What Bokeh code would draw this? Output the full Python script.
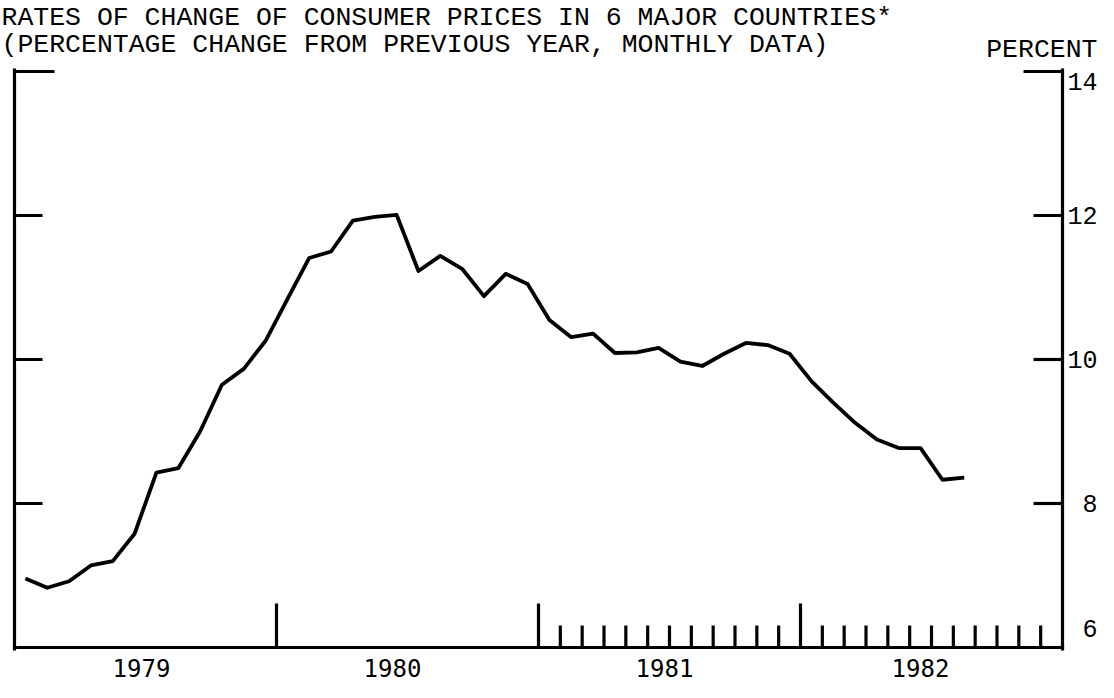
import pandas as pd
from bokeh.plotting import figure
from bokeh.models import Range1d
from bokeh.core.properties import value
from bokeh.embed import file_html
from bokeh.resources import INLINE

# ---------------- data ----------------
title_lines = [
    "RATES OF CHANGE OF CONSUMER PRICES IN 6 MAJOR COUNTRIES*",
    "(PERCENTAGE CHANGE FROM PREVIOUS YEAR, MONTHLY DATA)",
]
unit_label = "PERCENT"
years = [1979, 1980, 1981, 1982]
year_labels = ["1979", "1980", "1981", "1982"]
y_ticks = [6, 8, 10, 12, 14]
y_tick_labels = ["6", "8", "10", "12", "14"]
months = pd.period_range("1979-01", "1982-08", freq="M")
cpi = [6.96, 6.83, 6.92, 7.14, 7.20, 7.58, 8.43, 8.49, 9.00, 9.65,
       9.87, 10.26, 10.84, 11.41, 11.50, 11.93, 11.98, 12.01, 11.23, 11.44,
       11.26, 10.88, 11.19, 11.05, 10.55, 10.31, 10.36, 10.09, 10.10, 10.16,
       9.97, 9.91, 10.08, 10.23, 10.20, 10.08, 9.70, 9.40, 9.12, 8.89,
       8.77, 8.77, 8.33, 8.36]

# ---------------- layout (pixels) ----------------
W, H = 1098, 682
BL, BR, BT, BB = 14, 36, 71, 35          # space round the chart box
FW, FH = W - BL - BR, H - BT - BB

start_year = years[0]
x_end = 12 * len(years)
y_lo, y_hi = y_ticks[0], y_ticks[-1]
pxm = FW / x_end                         # pixels per month
pxu = FH / (y_hi - y_lo)                 # pixels per percentage point

def dx(px):
    return px / pxm

def dy(px):
    return px / pxu

def cy(px_from_top):
    return y_hi + dy(BT - px_from_top)

def cx(px_from_left):
    return dx(px_from_left - BL)

x_mid_month = [(p.year - start_year) * 12 + (p.month - 1) + 0.5 for p in months]
year_bounds = [(y - start_year) * 12 for y in years[1:]]
year_mids = [(y - start_year) * 12 + 6 for y in years]
minor_months = [(y - start_year) * 12 + m for y in years[2:] for m in range(1, 12)]

p = figure(width=W, height=H, output_backend="svg", toolbar_location=None,
           x_range=Range1d(-dx(BL), x_end + dx(BR)),
           y_range=Range1d(y_lo - dy(BB), y_hi + dy(BT)),
           x_axis_type=None, y_axis_type=None,
           min_border=0, min_border_left=0, min_border_right=0,
           min_border_top=0, min_border_bottom=0)
p.outline_line_color = None
p.background_fill_color = "white"
p.border_fill_color = "white"
p.grid.visible = False

AX_W = 3.2
K = "black"

# chart box: left, right and bottom lines
p.segment(x0=[0, x_end, 0], y0=[y_lo - dy(1.5), y_lo - dy(1.5), y_lo],
          x1=[0, x_end, x_end], y1=[y_hi + dy(1.5), y_hi + dy(1.5), y_lo],
          line_width=AX_W, line_color=K, line_cap="square")

# y ticks pointing inward on both sides
inner = y_ticks[1:-1]
p.segment(x0=[0] * len(inner), y0=inner, x1=[dx(28)] * len(inner), y1=inner,
          line_width=AX_W, line_color=K)
p.segment(x0=[x_end - dx(29)] * len(inner), y0=inner, x1=[x_end] * len(inner), y1=inner,
          line_width=AX_W, line_color=K)
# top corner brackets
p.segment(x0=[0, x_end - dx(39)], y0=[y_hi, y_hi], x1=[dx(40), x_end], y1=[y_hi, y_hi],
          line_width=AX_W, line_color=K)

# x ticks: tall at year boundaries, short monthly ones in 1981-82
p.segment(x0=year_bounds, y0=[y_lo] * len(year_bounds), x1=year_bounds,
          y1=[y_lo + dy(44)] * len(year_bounds), line_width=AX_W, line_color=K)
p.segment(x0=minor_months, y0=[y_lo] * len(minor_months), x1=minor_months,
          y1=[y_lo + dy(22)] * len(minor_months), line_width=AX_W, line_color=K)

# data line
p.line(x_mid_month, cpi, line_width=3.8, line_color=K, line_join="round")

MONO = value("Liberation Mono")

# titles
p.text(x=[cx(1)] * 2, y=[cy(17.5), cy(44.5)], text=title_lines,
       text_font=MONO, text_font_size=value("26.5px"), text_color=K,
       text_baseline="middle", text_align="left")
p.text(x=[cx(1097)], y=[cy(49)], text=[unit_label],
       text_font=MONO, text_font_size=value("26.5px"), text_color=K,
       text_baseline="middle", text_align="right")

# right-hand value labels (top and bottom ones sit inside the box corners)
shift_px = {6: 19, 14: -10}
p.text(x=[cx(1097)] * len(y_ticks),
       y=[v + dy(shift_px.get(v, 0)) for v in y_ticks], text=y_tick_labels,
       text_font=MONO, text_font_size=value("25px"), text_color=K,
       text_baseline="middle", text_align="right")

# year labels (typed slightly left of each year's centre)
year_shift_px = [-4, -15, -5, -11]
p.text(x=[m + dx(s) for m, s in zip(year_mids, year_shift_px)], y=[cy(667)] * len(year_mids),
       text=year_labels,
       text_font=value("DejaVu Sans Mono"), text_font_size=value("24px"), text_color=K,
       text_baseline="middle", text_align="center")

open("out.html", "w").write(file_html(p, INLINE))
